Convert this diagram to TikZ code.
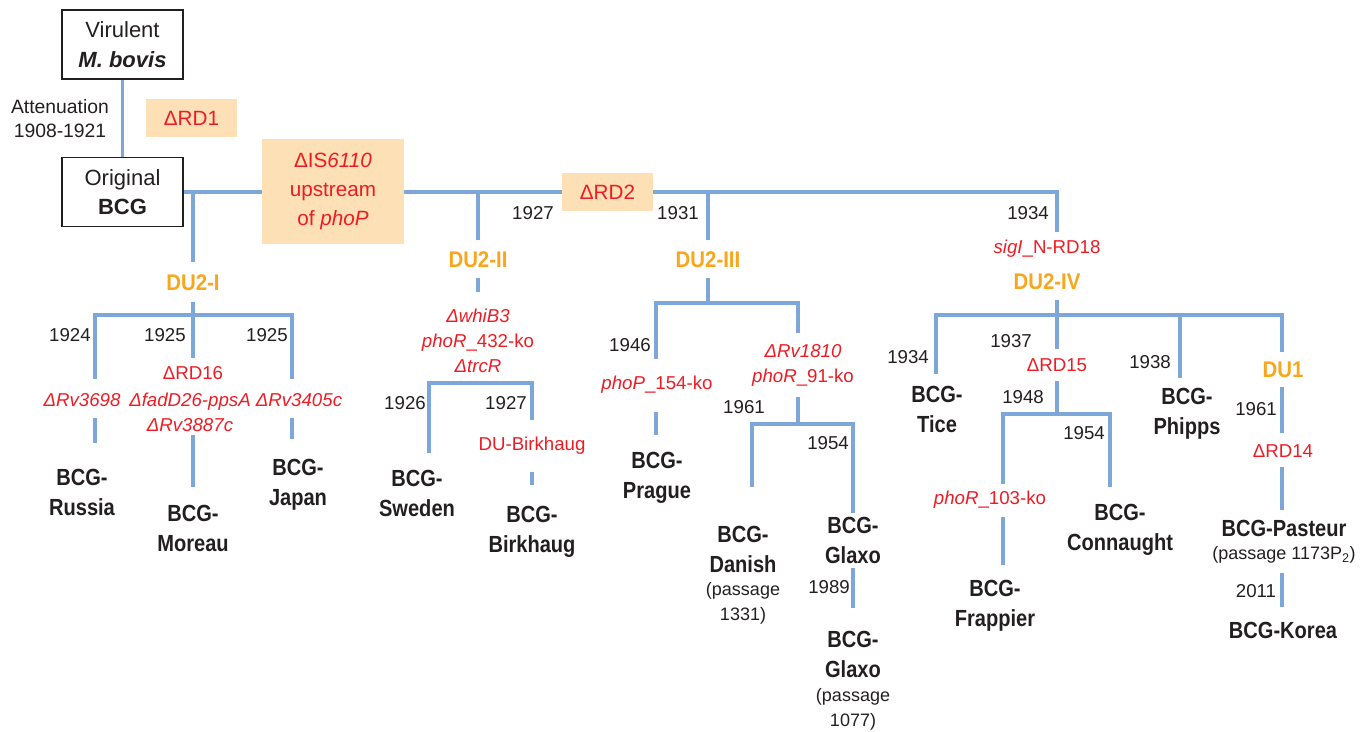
\documentclass[tikz,border=0pt]{standalone}
\usepackage{fontspec}
\setmainfont{Liberation Sans}
\newfontfamily\cnd{Liberation Sans}[FakeStretch=0.86]
\newfontfamily\cndu{Liberation Sans}[FakeStretch=0.9]
\usetikzlibrary{backgrounds}

\tikzset{every picture/.style={line width=0.75pt}}
\tikzset{
  lin/.style={draw={rgb, 255:red, 125; green, 167; blue, 217}, line width=2.5pt},
  box/.style={draw={rgb, 255:red, 35; green, 31; blue, 32}, line width=1.1pt, fill=white, text={rgb, 255:red, 35; green, 31; blue, 32}, minimum width=90.75pt, minimum height=51.5pt, align=center, inner sep=0pt, font=\fontsize{16.5}{22}\selectfont},
  peach/.style={fill={rgb, 255:red, 253; green, 224; blue, 181}, text={rgb, 255:red, 237; green, 28; blue, 36}, align=center, inner sep=0pt, font=\fontsize{15.5}{21.75}\selectfont},
  att/.style={text={rgb, 255:red, 35; green, 31; blue, 32}, align=center, inner sep=0.75pt, font=\fontsize{14.5}{18}\selectfont},
  yr/.style={text={rgb, 255:red, 35; green, 31; blue, 32}, inner sep=0.75pt, font=\fontsize{14}{16}\selectfont},
  mut/.style={text={rgb, 255:red, 237; green, 28; blue, 36}, align=center, inner sep=0.75pt, font=\fontsize{14}{18.75}\selectfont},
  du/.style={text={rgb, 255:red, 248; green, 166; blue, 27}, inner sep=0.75pt, font=\cndu\bfseries\fontsize{17}{18}\selectfont},
  strain/.style={text={rgb, 255:red, 35; green, 31; blue, 32}, align=center, inner sep=0.75pt, font=\cnd\bfseries\fontsize{17.5}{22.5}\selectfont},
  note/.style={text={rgb, 255:red, 35; green, 31; blue, 32}, align=center, inner sep=0.75pt, font=\fontsize{13.5}{19}\selectfont}
}

\begin{document}
\begin{tikzpicture}[x=0.75pt,y=0.75pt,yscale=-1,xscale=1]
	\useasboundingbox (0,0) rectangle (1369,731);
	
	% Boxes
	\node [box] (vir) at (122.5,44.5) {Virulent\\\textbf{\textit{M. bovis}}};
	\node [box] (orig) at (122.5,192) {Original\\\textbf{BCG}};
	\node [att] (atten) at (60,119) {Attenuation\\1908-1921};
	\node [peach, minimum width=68.25pt, minimum height=28.5pt] (rd1) at (191.5,118) {ΔRD1};
	\node [peach, minimum width=106.5pt, minimum height=78.75pt] (is6110) at (333,191.5) {ΔIS\textit{6110}\\upstream\\of \textit{phoP}};
	\node [peach, minimum width=68.25pt, minimum height=28.5pt] (rd2) at (607.5,192) {ΔRD2};
	
	% Years on the main line
	\node [yr] (y1927a) at (533,213) {1927};
	\node [yr] (y1931) at (678,213) {1931};
	\node [yr] (y1934a) at (1028,213) {1934};
	
	% DU2-I
	\node [du] (du2i) at (193,283) {DU2-I};
	\node [yr] (y1924) at (70,335) {1924};
	\node [yr] (y1925a) at (165,335) {1925};
	\node [yr] (y1925b) at (267,335) {1925};
	\node [mut] (rd16) at (193,373) {ΔRD16};
	\node [mut] (rv3698) at (82,400) {\textit{ΔRv3698}};
	\node [mut] (fadd) at (190,412) {\textit{ΔfadD26-ppsA}\\\textit{ΔRv3887c}};
	\node [mut] (rv3405c) at (299,400) {\textit{ΔRv3405c}};
	\node [strain] (russia) at (82,492) {BCG-\\Russia};
	\node [strain] (moreau) at (193,528) {BCG-\\Moreau};
	\node [strain] (japan) at (298,485) {BCG-\\Japan};
	
	% DU2-II
	\node [du] (du2ii) at (478,260) {DU2-II};
	\node [mut] (whib3) at (478,341) {\textit{ΔwhiB3}\\\textit{phoR}\_432-ko\\\textit{ΔtrcR}};
	\node [yr] (y1926) at (405,403) {1926};
	\node [yr] (y1927b) at (506,403) {1927};
	\node [mut] (dubirk) at (532,446) {DU-Birkhaug};
	\node [strain] (sweden) at (417,493) {BCG-\\Sweden};
	\node [strain] (birkhaug) at (532,532) {BCG-\\Birkhaug};
	
	% DU2-III
	\node [du] (du2iii) at (708,260) {DU2-III};
	\node [yr] (y1946) at (630,345) {1946};
	\node [mut] (rv1810) at (803,365) {\textit{ΔRv1810}\\\textit{phoR}\_91-ko};
	\node [mut] (phop154) at (657,385) {\textit{phoP}\_154-ko};
	\node [strain] (prague) at (657,478) {BCG-\\Prague};
	\node [yr] (y1961a) at (744,407) {1961};
	\node [yr] (y1954a) at (828,443) {1954};
	\node [strain] (danish) at (743,549) {BCG-\\Danish};
	\node [note] (danishp) at (743,603.5) {(passage\\1331)};
	\node [strain] (glaxoa) at (853,540) {BCG-\\Glaxo};
	\node [yr] (y1989) at (829,587) {1989};
	\node [strain] (glaxob) at (853,654) {BCG-\\Glaxo};
	\node [note] (glaxop) at (853,709) {(passage\\1077)};
	
	% DU2-IV
	\node [mut] (sigi) at (1047,249) {\textit{sigI}\_N-RD18};
	\node [du] (du2iv) at (1047,282) {DU2-IV};
	\node [yr] (y1934b) at (908,357) {1934};
	\node [strain] (tice) at (937,409) {BCG-\\Tice};
	\node [yr] (y1937) at (1011,341) {1937};
	\node [mut] (rd15) at (1057,365) {ΔRD15};
	\node [yr] (y1948) at (1023,397) {1948};
	\node [yr] (y1954b) at (1084,433) {1954};
	\node [mut] (phor103) at (990,500) {\textit{phoR}\_103-ko};
	\node [strain] (frappier) at (995,606) {BCG-\\Frappier};
	\node [strain] (connaught) at (1120,530) {BCG-\\Connaught};
	\node [yr] (y1938) at (1150,362) {1938};
	\node [strain] (phipps) at (1187,414) {BCG-\\Phipps};
	\node [du] (du1) at (1283,370) {DU1};
	\node [yr] (y1961b) at (1256,409) {1961};
	\node [mut] (rd14) at (1283,451) {ΔRD14};
	\node [strain] (pasteur) at (1284,528) {BCG-Pasteur};
	\node [note] (pasteurp) at (1284,555) {(passage 1173P\textsubscript{2})};
	\node [yr] (y2011) at (1256,591) {2011};
	\node [strain] (korea) at (1283,630) {BCG-Korea};
	
	% line ends
	\coordinate (c1a) at (193,192); \coordinate (c1b) at (193,262);
	\coordinate (c1c) at (193,302); \coordinate (c1d) at (193,358);
	\coordinate (c1r) at (292,315); \coordinate (c1lb) at (95,379); \coordinate (c1rb) at (292,379);
	\coordinate (c1e) at (95,418); \coordinate (c1f) at (95,443);
	\coordinate (c1g) at (193,435); \coordinate (c1h) at (193,487);
	\coordinate (c1i) at (292,418); \coordinate (c1j) at (292,439);
	
	\coordinate (c2a) at (478,192); \coordinate (c2b) at (478,240);
	\coordinate (c2c) at (478,278); \coordinate (c2d) at (478,292);
	\coordinate (c2r) at (532,383); \coordinate (c2lb) at (429,453); \coordinate (c2rb) at (532,420);
	\coordinate (c2e) at (532,472); \coordinate (c2f) at (532,485);
	
	\coordinate (c3a) at (708,192); \coordinate (c3b) at (708,240);
	\coordinate (c3c) at (708,278); \coordinate (c3d) at (708,303);
	\coordinate (c3r) at (798,303); \coordinate (c3lb) at (656,359); \coordinate (c3rb) at (798,333);
	\coordinate (c3e) at (656,412); \coordinate (c3f) at (656,435);
	\coordinate (c3g) at (798,397); \coordinate (c3h) at (798,424);
	\coordinate (c3j) at (853,424); \coordinate (c3ib) at (752,487); \coordinate (c3jb) at (853,513);
	\coordinate (c3k) at (853,568); \coordinate (c3m) at (853,608);
	
	\coordinate (c4a) at (1057,232);
	\coordinate (c4b) at (1057,300); \coordinate (c4c) at (1057,349);
	\coordinate (c4r) at (1282,315); \coordinate (c4lb) at (936,374); \coordinate (c4rb) at (1282,352);
	\coordinate (c4p) at (1180,315); \coordinate (c4pb) at (1180,378);
	\coordinate (c4d) at (1057,381); \coordinate (c4e) at (1057,414);
	\coordinate (c4g) at (1110,414); \coordinate (c4fb) at (1003,484); \coordinate (c4gb) at (1110,487);
	\coordinate (c4h) at (1003,517); \coordinate (c4i) at (1003,565);
	\coordinate (c4j) at (1282,387); \coordinate (c4k) at (1282,433);
	\coordinate (c4m) at (1282,467); \coordinate (c4n) at (1282,510);
	\coordinate (c4o) at (1282,573); \coordinate (c4q) at (1282,607);
	
	\begin{scope}[on background layer]
	%Straight Lines
	\draw [lin] (vir) -- (orig);
	\draw [lin] (orig.east) -| (c4a);
	% DU2-I
	\draw [lin] (c1a) -- (c1b);
	\draw [lin] (c1c) -- (c1d);
	\draw [lin] (c1lb) |- (c1r) -- (c1rb);
	\draw [lin] (c1e) -- (c1f);
	\draw [lin] (c1g) -- (c1h);
	\draw [lin] (c1i) -- (c1j);
	% DU2-II
	\draw [lin] (c2a) -- (c2b);
	\draw [lin] (c2c) -- (c2d);
	\draw [lin] (c2lb) |- (c2r) -- (c2rb);
	\draw [lin] (c2e) -- (c2f);
	% DU2-III
	\draw [lin] (c3a) -- (c3b);
	\draw [lin] (c3c) -- (c3d);
	\draw [lin] (c3lb) |- (c3r) -- (c3rb);
	\draw [lin] (c3e) -- (c3f);
	\draw [lin] (c3g) -- (c3h);
	\draw [lin] (c3ib) |- (c3j) -- (c3jb);
	\draw [lin] (c3k) -- (c3m);
	% DU2-IV
	\draw [lin] (c4b) -- (c4c);
	\draw [lin] (c4lb) |- (c4r) -- (c4rb);
	\draw [lin] (c4p) -- (c4pb);
	\draw [lin] (c4d) -- (c4e);
	\draw [lin] (c4fb) |- (c4g) -- (c4gb);
	\draw [lin] (c4h) -- (c4i);
	\draw [lin] (c4j) -- (c4k);
	\draw [lin] (c4m) -- (c4n);
	\draw [lin] (c4o) -- (c4q);
	\end{scope}
	
\end{tikzpicture}
\end{document}
